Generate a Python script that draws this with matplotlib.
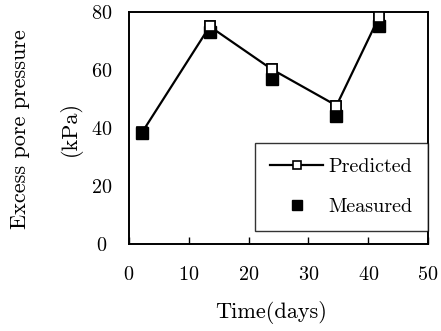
import matplotlib.pyplot as plt

plt.rcParams['font.family'] = ['cmr10', 'DejaVu Serif']
plt.rcParams['axes.formatter.use_mathtext'] = True

# data
time_pred = [2.2, 13.5, 23.9, 34.7, 41.8]
pp_pred = [38.5, 75, 60.2, 47.7, 78.2]
time_meas = [2.2, 13.5, 23.9, 34.7, 41.8]
pp_meas = [38.3, 73, 57, 44.2, 75]

fig = plt.figure(figsize=(4.41, 3.31), dpi=100)
ax = fig.add_axes([0.2925, 0.263, 0.678, 0.701])

ax.plot(time_pred, pp_pred, '-s', color='black', lw=1.6, ms=7,
        mfc='white', mec='black', mew=1.2, label='Predicted', zorder=2)
ax.plot(time_meas, pp_meas, 's', color='black', ms=8.5, ls='none',
        label='Measured', zorder=3)
ax.plot(time_pred[1:], pp_pred[1:], 's', ms=7, mfc='white', mec='black',
        mew=1.2, ls='none', zorder=4)

ax.set_xlim(0, 50)
ax.set_ylim(0, 80)
ax.set_xticks([0, 10, 20, 30, 40, 50])
ax.set_yticks([0, 20, 40, 60, 80])
ax.tick_params(axis='x', direction='in', length=5, width=1, labelsize=14.5, pad=16)
ax.tick_params(axis='y', length=0, labelsize=14.5, pad=19.5)
for lbl in ax.get_yticklabels():
    lbl.set_horizontalalignment('center')
for s in ax.spines.values():
    s.set_linewidth(1.4)

leg = ax.legend(loc='lower right', bbox_to_anchor=(1.0, 0.055), fontsize=14.5,
                frameon=True, fancybox=False, edgecolor='black',
                borderaxespad=0, handlelength=2.6, handletextpad=0.3,
                labelspacing=1.1, borderpad=0.75, markerscale=0.85)
leg.get_frame().set_linewidth(1.0)

fig.text(0.614, 0.055, 'Time(days)', ha='center', va='center', fontsize=16)
fig.text(0.045, 0.61, 'Excess pore pressure', rotation=90, ha='center',
         va='center', fontsize=16)
fig.text(0.16, 0.613, '(kPa)', rotation=90, ha='center', va='center',
         fontsize=16)

fig.savefig('out.png', dpi=100)
